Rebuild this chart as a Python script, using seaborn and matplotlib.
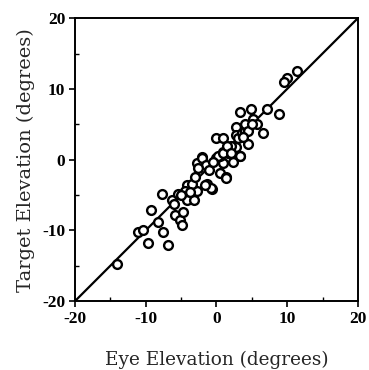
import matplotlib
matplotlib.use("Agg")
import matplotlib.pyplot as plt
import seaborn as sns
import pandas as pd
from matplotlib.ticker import MultipleLocator

eye_elev = [11.4, 10.0, 9.6, 7.1, 8.9, 6.6, 4.9, 3.3, 4.5, 2.8, 0.0, 1.0, 2.8, 3.3, -2.1,
            5.1, 5.7, -14.0, -11.1, -10.4, -9.7, -9.3, -8.2, -7.5, -6.8, -7.7, -6.3, -5.9,
            -5.2, -4.9, -4.7, -5.4, -4.2, -4.2, -3.1, -2.7, -1.4, -0.6, -2.8, -2.1, -1.5,
            -2.6, 0.0, 0.5, 1.3, 1.0, 2.4, 3.3, 1.7, 0.9, 2.8, -0.7, -1.6, 1.4,
            -4.5, -3.5, -5.0, -3.0, -1.0, 0.5, 1.5, 2.0, 3.0, 3.6, 4.0, 4.5, 0.2, -0.5,
            1.0, 1.5, 2.0, 4.0, 4.5, 3.8, 5.0, -6.0, -3.8]
target_elev = [12.5, 11.5, 11.0, 7.1, 6.5, 3.8, 7.2, 6.7, 2.2, 4.6, 3.1, 3.1, 1.8, 0.5, 0.4,
               5.8, 5.1, -14.7, -10.2, -9.9, -11.8, -7.1, -8.8, -10.2, -12.1, -4.8, -5.7, -7.8,
               -8.5, -9.2, -7.4, -4.8, -3.6, -5.7, -5.7, -4.5, -3.4, -4.2, -0.5, 0.2, -0.8,
               -1.2, 0.2, -1.9, -2.5, -0.5, -0.3, 0.5, 0.9, 1.1, 3.5, -4.0, -3.6, -2.6,
               -4.5, -3.5, -5.0, -2.5, -1.5, 0.5, 1.5, 2.0, 3.0, 3.8, 4.0, 4.5, 0.5, -0.3,
               1.0, 2.0, 1.0, 5.0, 4.0, 3.2, 5.0, -6.2, -4.6]
unity_x = [-20, 20]
unity_y = [-20, 20]
x_ticks = [-20, -10, 0, 10, 20]
y_ticks = [-20, -10, 0, 10, 20]

df = pd.DataFrame({"eye": eye_elev, "target": target_elev})
line_df = pd.DataFrame({"x": unity_x, "y": unity_y})

sns.set_theme(style="ticks")
plt.rcParams["font.family"] = ["Liberation Serif", "DejaVu Serif"]
plt.rcParams["axes.unicode_minus"] = False

fig = plt.figure(figsize=(3.69, 3.70), dpi=100)
ax = fig.add_axes([0.203, 0.186, 0.767, 0.765])

sns.lineplot(data=line_df, x="x", y="y", ax=ax, color="black", linewidth=1.6, zorder=2)
sns.scatterplot(data=df, x="eye", y="target", ax=ax, marker="o", s=40,
                facecolor="white", edgecolor="black", linewidth=1.7, zorder=3)

ax.set_xlim(-20, 20)
ax.set_ylim(-20, 20)
ax.set_xticks(x_ticks)
ax.set_yticks(y_ticks)
ax.xaxis.set_minor_locator(MultipleLocator(5))
ax.yaxis.set_minor_locator(MultipleLocator(5))
ax.tick_params(which="major", direction="out", length=4.5, width=1.2, colors="black",
               labelsize=12.5, pad=2.5)
ax.tick_params(which="minor", direction="in", length=3, width=1.0, colors="black")
for lab in ax.get_xticklabels() + ax.get_yticklabels():
    lab.set_fontweight("bold")
for sp in ax.spines.values():
    sp.set_linewidth(1.4)
    sp.set_color("black")

ax.set_xlabel("Eye Elevation (degrees)", fontsize=13.3, labelpad=17,
              family=["DejaVu Serif"])
ax.set_ylabel("Target Elevation (degrees)", fontsize=14, labelpad=5,
              family=["DejaVu Serif"])

fig.savefig("out.png", dpi=100)
